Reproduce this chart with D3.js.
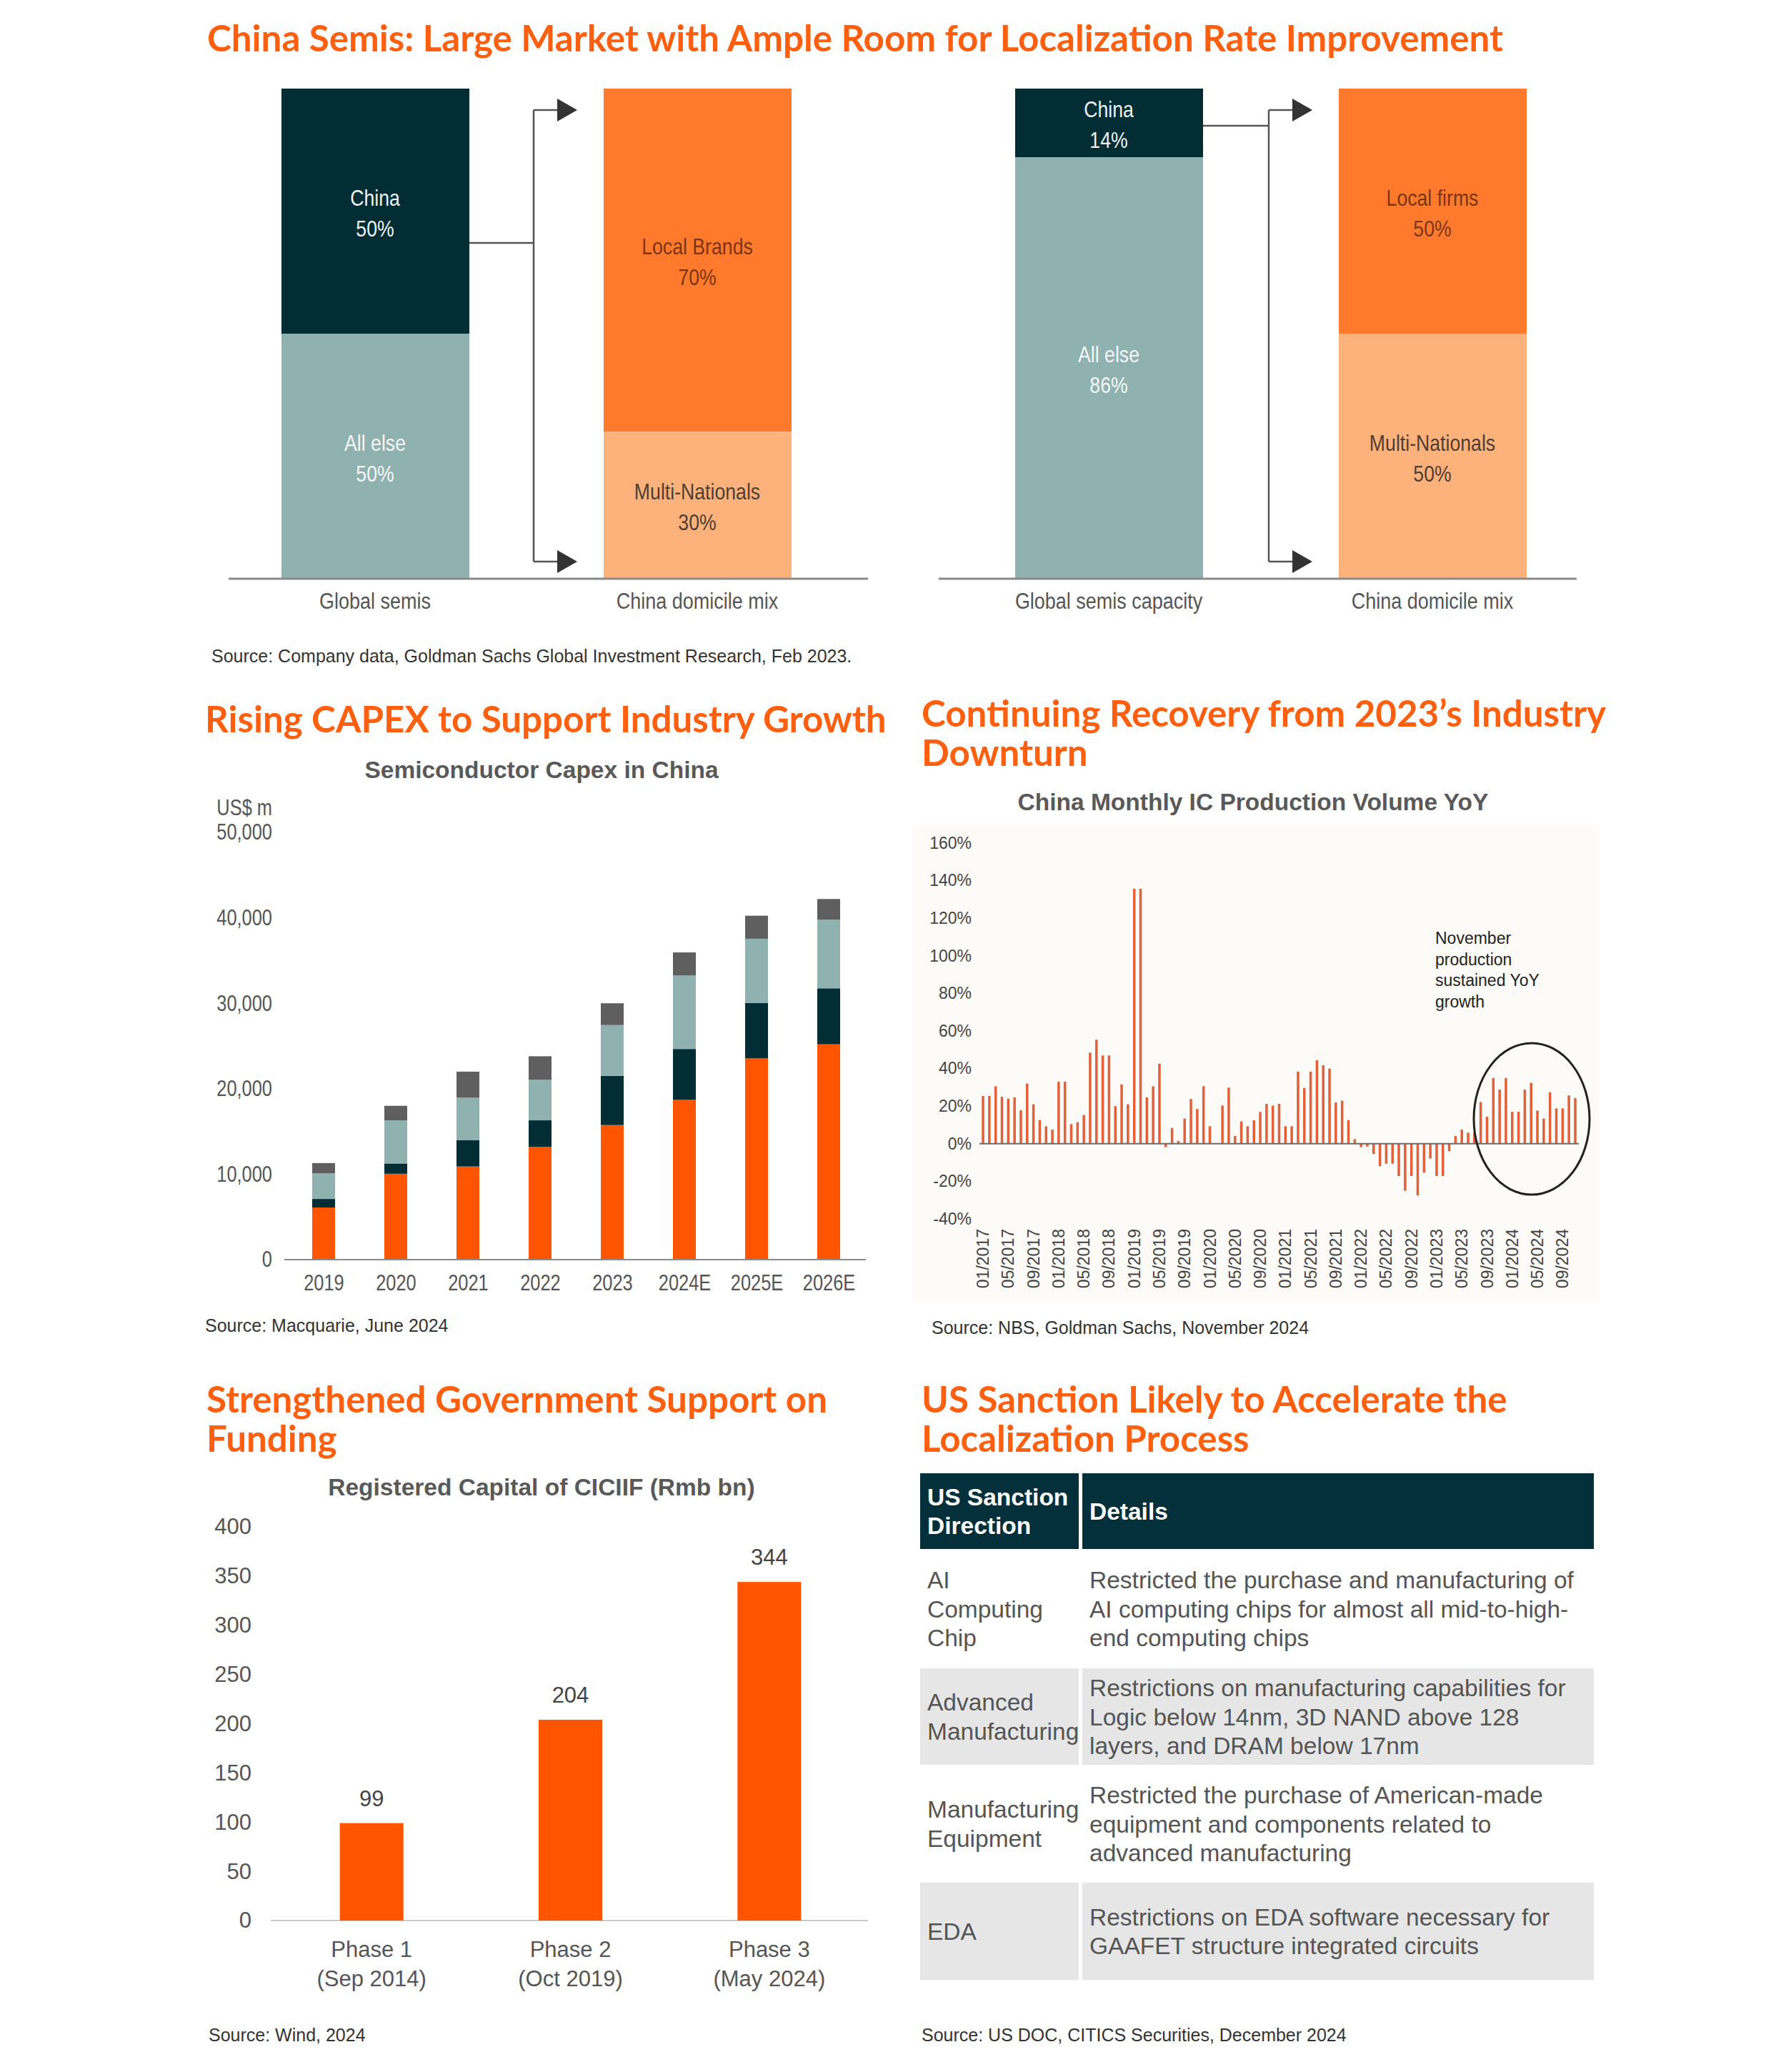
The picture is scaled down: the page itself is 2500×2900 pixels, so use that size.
<!DOCTYPE html>
<html>
<head>
<meta charset="utf-8">
<script src="https://cdn.jsdelivr.net/npm/d3@7"></script>
<style>
  body { margin: 0; background: #fff; }
  text { font-family: "Liberation Sans", Arial, sans-serif; }
  .title { font-family: Lato, "Open Sans", sans-serif; font-weight: 700; fill: #ff5f0f; }
  .source { font-size: 25px; fill: #333; }
  .sub { font-size: 33.5px; font-weight: 700; fill: #595959; }
</style>
</head>
<body>
<svg id="chart" width="2500" height="2900"></svg>
<script>
// top panels (shares in %, listed top segment first)
var semisNames = ["China", "All else"];
var semisShare = [50, 50];
var domicileNames = ["Local Brands", "Multi-Nationals"];
var domicileShare = [70, 30];
var capacityNames = ["China", "All else"];
var capacityShare = [14, 86];
var capMixNames = ["Local firms", "Multi-Nationals"];
var capMixShare = [50, 50];

// semiconductor capex in China, US$ m
var capexYears = ["2019", "2020", "2021", "2022", "2023", "2024E", "2025E", "2026E"];
var capexSeries = ["s1", "s2", "s3", "s4"];
var capexS1 = [6100, 10050, 10900, 13200, 15750, 18700, 23550, 25200];
var capexS2 = [1000, 1200, 3100, 3100, 5750, 5950, 6500, 6550];
var capexS3 = [3000, 5050, 4950, 4750, 5950, 8600, 7500, 8050];
var capexS4 = [1200, 1700, 3050, 2750, 2550, 2700, 2700, 2400];
var capexTicks = [0, 10000, 20000, 30000, 40000, 50000];

// China monthly IC production volume YoY, %, 01/2017 - 11/2024
var icYoY = [
  25.4, 25.4, 30.6, 25, 24, 24.7, 17.8, 32, 21, 12.6, 9.3, 7.5,
  33, 33, 10.4, 11.5, 15.3, 48.5, 55.4, 47, 47, 20, 31.6, 21,
  135.7, 135.7, 24.7, 30.6, 42.6, -1.8, 8.4, 1.5, 13.4, 23.8, 18.5, 30.6,
  9.3, null, 20.3, 29.9, 4.1, 11.9, 9.3, 12.5, 16.9, 21.2, 20.3, 21.2,
  9.3, 9.3, 38.4, 29.7, 38.4, 44.4, 41.8, 40, 22, 22.9, 12.6, 2.4,
  -1.8, -1.5, -5.4, -12, -10.6, -10.6, -17.2, -25, -17.2, -27.5, -15.3, -7.9,
  -17.2, -17.2, -4, 4.1, 7.5, 5.9, 6, 22.2, 14.4, 35, 28.8, 35,
  17, 17, 28.8, 32.4, 17.6, 13.4, 27.4, 18.8, 18.8, 25.7, 24.3
];
var icTicks = [-40, -20, 0, 20, 40, 60, 80, 100, 120, 140, 160];
var icNote = ["November", "production", "sustained YoY", "growth"];

// CICIIF registered capital, Rmb bn
var phases = ["Phase 1", "Phase 2", "Phase 3"];
var phaseDates = ["(Sep 2014)", "(Oct 2019)", "(May 2024)"];
var phaseCapital = [99, 204, 344];
var capitalTicks = [0, 50, 100, 150, 200, 250, 300, 350, 400];

// US sanction table
var tableHeader = [["US Sanction", "Direction"], ["Details"]];
var sanctionDirections = [["AI", "Computing", "Chip"], ["Advanced", "Manufacturing"], ["Manufacturing", "Equipment"], ["EDA"]];
var sanctionDetails = [
  ["Restricted the purchase and manufacturing of", "AI computing chips for almost all mid-to-high-", "end computing chips"],
  ["Restrictions on manufacturing capabilities for", "Logic below 14nm, 3D NAND above 128", "layers, and DRAM below 17nm"],
  ["Restricted the purchase of American-made", "equipment and components related to", "advanced manufacturing"],
  ["Restrictions on EDA software necessary for", "GAAFET structure integrated circuits"]
];

var svg = d3.select("#chart");
svg.append("rect").attr("width", 2500).attr("height", 2900).attr("fill", "#fff");

// squeeze text horizontally, stands in for the condensed face of the original
function narrow(sel, k) {
  k = k || 0.82;
  sel.each(function () {
    var t = d3.select(this);
    var x = +t.attr("x") || 0, y = +t.attr("y") || 0;
    t.attr("x", 0).attr("y", 0)
      .attr("transform", "translate(" + x + "," + y + ") scale(" + k + ",1)")
      .style("font-size", "31px").attr("fill", t.attr("fill") || "#555");
  });
}

// ---------- titles
var titles = [
  { t: "China Semis: Large Market with Ample Room for Localization Rate Improvement", x: 290, y: 72 },
  { t: "Rising CAPEX to Support Industry Growth", x: 287, y: 1025 },
  { t: "Continuing Recovery from 2023\u2019s Industry", x: 1290, y: 1017 },
  { t: "Downturn", x: 1290, y: 1072 },
  { t: "Strengthened Government Support on", x: 289, y: 1977 },
  { t: "Funding", x: 289, y: 2032 },
  { t: "US Sanction Likely to Accelerate the", x: 1290, y: 1977 },
  { t: "Localization Process", x: 1290, y: 2032 }
];
var tsel = svg.selectAll(".title").data(titles).enter().append("text")
  .attr("class", "title").attr("x", d => d.x).attr("y", d => d.y)
  .style("font-size", "44px").text(d => d.t);
var fit = 1816 / tsel.node().getComputedTextLength();
tsel.style("font-size", (44 * fit).toFixed(1) + "px");

function source(txt, x, y) {
  svg.append("text").attr("class", "source").attr("x", x).attr("y", y).text(txt);
}

// ---------- top split panels
function splitPanel(p) {
  var y = d3.scaleLinear().domain([0, 100]).range([810, 124]);
  var g = svg.append("g");
  [p.left, p.right].forEach(function (b) {
    var cum = d3.cumsum([0].concat(b.values));
    b.values.forEach(function (v, i) {
      var y0 = y(100 - cum[i]), y1 = y(100 - cum[i + 1]);
      g.append("rect").attr("x", b.x).attr("width", 263).attr("y", y0)
        .attr("height", y1 - y0).attr("fill", b.colors[i]);
      var mid = (y0 + y1) / 2;
      g.append("text").attr("x", b.x + 131).attr("y", mid - 8)
        .attr("text-anchor", "middle").attr("fill", b.text[i])
        .text(b.names[i]).call(narrow, 0.86);
      g.append("text").attr("x", b.x + 131).attr("y", mid + 35)
        .attr("text-anchor", "middle").attr("fill", b.text[i])
        .text(v + "%").call(narrow, 0.86);
    });
    g.append("text").attr("x", b.x + 131).attr("y", 852)
      .attr("text-anchor", "middle").attr("fill", "#555")
      .text(b.label).call(narrow, 0.87);
  });
  g.append("line").attr("x1", p.base[0]).attr("x2", p.base[1]).attr("y1", 810).attr("y2", 810)
    .attr("stroke", "#8a8a8a").attr("stroke-width", 3);
  var lx = p.left.x + 263;
  g.append("path")
    .attr("d", "M" + lx + "," + p.cy + "H" + p.vx + "M" + p.vx + ",154V786M" + p.vx + ",154H" + (p.ax - 20) + "M" + p.vx + ",786H" + (p.ax - 20))
    .attr("fill", "none").attr("stroke", "#555").attr("stroke-width", 2.5);
  [154, 786].forEach(function (ay) {
    g.append("path").attr("d", "M" + (p.ax - 28) + "," + (ay - 16) + "L" + p.ax + "," + ay + "L" + (p.ax - 28) + "," + (ay + 16) + "Z")
      .attr("fill", "#333");
  });
}
var darkTeal = "#032d35", greyTeal = "#8fb1af", orangeMid = "#ff7a2c", orangeLight = "#fdb27c";
splitPanel({
  left: { x: 394, values: semisShare, names: semisNames, colors: [darkTeal, greyTeal], text: ["#eef2f2", "#f4f7f7"], label: "Global semis" },
  right: { x: 845, values: domicileShare, names: domicileNames, colors: [orangeMid, orangeLight], text: ["#7a3515", "#4f3f33"], label: "China domicile mix" },
  base: [320, 1215], vx: 747, ax: 808, cy: 340
});
splitPanel({
  left: { x: 1421, values: capacityShare, names: capacityNames, colors: [darkTeal, greyTeal], text: ["#eef2f2", "#f4f7f7"], label: "Global semis capacity" },
  right: { x: 1874, values: capMixShare, names: capMixNames, colors: [orangeMid, orangeLight], text: ["#7a3515", "#4f3f33"], label: "China domicile mix" },
  base: [1314, 2207], vx: 1776, ax: 1837, cy: 176
});
source("Source: Company data, Goldman Sachs Global Investment Research, Feb 2023.", 296, 927);

// ---------- capex
(function () {
  var g = svg.append("g");
  g.append("text").attr("class", "sub").attr("x", 758).attr("y", 1089).attr("text-anchor", "middle")
    .text("Semiconductor Capex in China");
  var y = d3.scaleLinear().domain([0, 50000]).range([1763, 1165]);
  var x = d3.scalePoint().domain(capexYears).range([453, 1160]);
  var rows = capexYears.map((d, i) => ({ year: d, s1: capexS1[i], s2: capexS2[i], s3: capexS3[i], s4: capexS4[i] }));
  var stack = d3.stack().keys(capexSeries)(rows);
  var color = d3.scaleOrdinal().domain(capexSeries).range(["#ff5500", "#022d35", "#8fb1af", "#5f5f5f"]);
  g.selectAll(".layer").data(stack).enter().append("g").attr("fill", d => color(d.key))
    .selectAll("rect").data(d => d).enter().append("rect")
    .attr("x", d => x(d.data.year) - 16).attr("width", 32)
    .attr("y", d => y(d[1])).attr("height", d => y(d[0]) - y(d[1]));
  var ax = g.append("g").attr("transform", "translate(390,0)")
    .call(d3.axisLeft(y).tickValues(capexTicks).tickFormat(d3.format(",")).tickSize(0).tickPadding(9));
  ax.select(".domain").remove();
  ax.selectAll("text").attr("fill", "#555").call(narrow);
  g.append("text").attr("x", 381).attr("y", 1141).attr("text-anchor", "end")
    .attr("fill", "#555").text("US$ m").call(narrow);
  g.append("line").attr("x1", 398).attr("x2", 1212).attr("y1", 1763).attr("y2", 1763)
    .attr("stroke", "#8a8a8a").attr("stroke-width", 2);
  var bx = g.append("g").attr("transform", "translate(0,1763)")
    .call(d3.axisBottom(x).tickSize(0).tickPadding(21));
  bx.select(".domain").remove();
  bx.selectAll("text").attr("fill", "#555").call(narrow);
  source("Source: Macquarie, June 2024", 287, 1864);
})();

// ---------- monthly IC production
(function () {
  var g = svg.append("g");
  g.append("text").attr("class", "sub").attr("x", 1754).attr("y", 1134).attr("text-anchor", "middle")
    .text("China Monthly IC Production Volume YoY");
  g.append("rect").attr("x", 1277).attr("y", 1156).attr("width", 961).attr("height", 666).attr("fill", "#fcfbf8");
  var months = d3.timeMonths(new Date(2017, 0, 1), new Date(2024, 11, 1));
  var y = d3.scaleLinear().domain([-40, 160]).range([1706, 1180]);
  var x = d3.scaleBand().domain(months).range([1369, 2212]).padding(0.6);
  var pts = months.map((m, i) => ({ m: m, v: icYoY[i] })).filter(d => d.v !== null);
  g.selectAll(".bar").data(pts).enter().append("rect")
    .attr("x", d => x(d.m)).attr("width", x.bandwidth())
    .attr("y", d => y(Math.max(0, d.v))).attr("height", d => Math.abs(y(d.v) - y(0)))
    .attr("fill", "#e2603a");
  g.append("line").attr("x1", 1371).attr("x2", 2210).attr("y1", y(0)).attr("y2", y(0))
    .attr("stroke", "#6b6b6b").attr("stroke-width", 2);
  var ax = g.append("g").attr("transform", "translate(1368,0)")
    .call(d3.axisLeft(y).tickValues(icTicks).tickFormat(d => d + "%").tickSize(0).tickPadding(8));
  ax.select(".domain").remove();
  ax.selectAll("text").style("font-size", "23px").attr("fill", "#444");
  var bx = g.append("g").attr("transform", "translate(0,1712)")
    .call(d3.axisBottom(x).tickValues(months.filter((d, i) => i % 4 === 0))
      .tickFormat(d3.timeFormat("%m/%Y")).tickSize(0));
  bx.select(".domain").remove();
  bx.selectAll("text").attr("transform", "rotate(-90)").attr("text-anchor", "end")
    .attr("x", -8).attr("y", 0).attr("dy", "0.35em").style("font-size", "23px").attr("fill", "#444");
  g.append("ellipse").attr("cx", 2144).attr("cy", 1566).attr("rx", 81).attr("ry", 106)
    .attr("fill", "none").attr("stroke", "#222").attr("stroke-width", 3);
  g.selectAll(".note").data(icNote).enter().append("text")
    .attr("x", 2009).attr("y", (d, i) => 1321 + i * 29.5).style("font-size", "23px").attr("fill", "#222")
    .text(d => d);
  source("Source: NBS, Goldman Sachs, November 2024", 1304, 1867);
})();

// ---------- CICIIF capital
(function () {
  var g = svg.append("g");
  g.append("text").attr("class", "sub").attr("x", 758).attr("y", 2093).attr("text-anchor", "middle")
    .text("Registered Capital of CICIIF (Rmb bn)");
  var y = d3.scaleLinear().domain([0, 400]).range([2688, 2137]);
  var x = d3.scaleBand().domain(phases).range([381, 1216]).paddingInner(0.68).paddingOuter(0.34);
  var ax = g.append("g").attr("transform", "translate(362,0)")
    .call(d3.axisLeft(y).tickValues(capitalTicks).tickSize(0).tickPadding(10));
  ax.select(".domain").remove();
  ax.selectAll("text").style("font-size", "31px").attr("fill", "#555");
  g.append("line").attr("x1", 379).attr("x2", 1215).attr("y1", 2688).attr("y2", 2688)
    .attr("stroke", "#c8c8c8").attr("stroke-width", 2);
  g.selectAll(".bar").data(phaseCapital).enter().append("rect")
    .attr("x", (d, i) => x(phases[i])).attr("width", x.bandwidth())
    .attr("y", d => y(d)).attr("height", d => y(0) - y(d)).attr("fill", "#ff5500");
  g.selectAll(".val").data(phaseCapital).enter().append("text")
    .attr("x", (d, i) => x(phases[i]) + x.bandwidth() / 2).attr("y", d => y(d) - 24)
    .attr("text-anchor", "middle").style("font-size", "31px").attr("fill", "#444").text(d => d);
  var bx = g.append("g").attr("transform", "translate(0,2688)")
    .call(d3.axisBottom(x).tickSize(0).tickPadding(29));
  bx.select(".domain").remove();
  bx.selectAll("text").style("font-size", "31px").attr("fill", "#555");
  g.selectAll(".date").data(phaseDates).enter().append("text")
    .attr("x", (d, i) => x(phases[i]) + x.bandwidth() / 2).attr("y", 2780)
    .attr("text-anchor", "middle").style("font-size", "31px").attr("fill", "#555").text(d => d);
  source("Source: Wind, 2024", 292, 2857);
})();

// ---------- sanction table
(function () {
  var g = svg.append("g");
  var cols = [{ x: 1288, w: 222 }, { x: 1515, w: 716 }];
  var rowBounds = [[2168, 2335], [2335, 2470], [2470, 2635], [2635, 2771]];
  var fills = ["#ffffff", "#e6e6e6", "#ffffff", "#e6e6e6"];
  var lh = 40.5;
  cols.forEach(function (c, j) {
    g.append("rect").attr("x", c.x).attr("y", 2062).attr("width", c.w).attr("height", 106).attr("fill", "#03303a");
    var lines = tableHeader[j];
    lines.forEach(function (t, k) {
      g.append("text").attr("x", c.x + 10).attr("y", 2115 + (k - (lines.length - 1) / 2) * lh + 12)
        .style("font-size", "33.5px").style("font-weight", 700).attr("fill", "#fff").text(t);
    });
  });
  rowBounds.forEach(function (r, i) {
    var mid = (r[0] + r[1]) / 2;
    [sanctionDirections[i], sanctionDetails[i]].forEach(function (lines, j) {
      var c = cols[j];
      g.append("rect").attr("x", c.x).attr("y", r[0]).attr("width", c.w).attr("height", r[1] - r[0]).attr("fill", fills[i]);
      lines.forEach(function (t, k) {
        g.append("text").attr("x", c.x + 10).attr("y", mid + (k - (lines.length - 1) / 2) * lh + 12)
          .style("font-size", "33.5px").attr("fill", "#555").text(t);
      });
    });
  });
  source("Source: US DOC, CITICS Securities, December 2024", 1290, 2857);
})();
</script>
</body>
</html>
